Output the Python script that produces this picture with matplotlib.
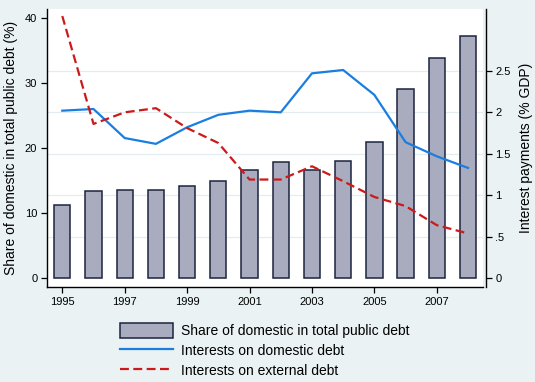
import matplotlib.pyplot as plt
import numpy as np

plt.rcParams['font.family'] = ['Liberation Sans', 'DejaVu Sans']

years = np.arange(1995, 2009)
share_domestic = [11.2, 13.4, 13.5, 13.5, 14.15, 14.9, 16.6, 17.85, 16.6, 18.0, 20.9, 29.1, 33.8, 37.3]
int_domestic = [2.02, 2.04, 1.69, 1.62, 1.82, 1.97, 2.02, 2.0, 2.47, 2.51, 2.21, 1.64, 1.47, 1.33]
int_external = [3.16, 1.86, 2.0, 2.05, 1.81, 1.63, 1.19, 1.19, 1.35, 1.17, 0.98, 0.87, 0.64, 0.54]

left_ticks = [0, 10, 20, 30, 40]
right_ticks = [0, 0.5, 1, 1.5, 2, 2.5]
right_labels = ['0', '.5', '1', '1.5', '2', '2.5']
x_ticks = [1995, 1997, 1999, 2001, 2003, 2005, 2007]

bg = '#EAF2F3'
W, H = 535, 382
fig = plt.figure(figsize=(W / 100, H / 100), dpi=100, facecolor=bg)
ax = fig.add_axes([47 / W, (H - 287) / H, (483 - 47) / W, (287 - 9) / H])
ax.set_facecolor('white')

ratio = 12.757
ylo, yhi = -1.34, 41.4
ax.set_ylim(ylo, yhi)
ax.set_xlim(1994.51, 2008.48)

# grid follows the right axis ticks, drawn under the bars
for v in right_ticks[1:]:
    ax.axhline(v * ratio, color='#E3ECEE', lw=0.9, zorder=0)

bars = ax.bar(years, share_domestic, width=0.52, color='#A8ACBE', edgecolor='#1C2340',
              linewidth=1.1, zorder=2, label='Share of domestic in total public debt')

ax2 = ax.twinx()
ax2.set_ylim(ylo / ratio, yhi / ratio)
l1, = ax2.plot(years, int_domestic, color='#1A7EE0', lw=1.6, label='Interests on domestic debt')
l2, = ax2.plot(years, int_external, color='#CC1A1A', lw=1.6, dashes=(4, 2),
               label='Interests on external debt')

for a in (ax, ax2):
    a.spines['top'].set_visible(False)
ax.spines['right'].set_visible(False)
ax2.spines['left'].set_visible(False)
ax2.spines['bottom'].set_visible(False)
ax2.spines['right'].set_position(('outward', 2))
for s in ('left', 'bottom'):
    ax.spines[s].set_linewidth(1.0)
ax2.spines['right'].set_linewidth(1.0)

ax.set_yticks(left_ticks)
ax.set_xticks(x_ticks)
ax.tick_params(axis='both', labelsize=8, length=4, width=0.9, direction='out', pad=3)
ax2.set_yticks(right_ticks)
ax2.set_yticklabels(right_labels)
ax2.tick_params(axis='y', labelsize=8, length=4, width=0.9, direction='out', pad=3)

ax.set_ylabel('Share of domestic in total public debt (%)', fontsize=10, labelpad=5)
ax2.set_ylabel('Interest payments (% GDP)', fontsize=10, labelpad=6)

fig.legend(handles=[bars, l1, l2], loc='upper center', bbox_to_anchor=(265 / W, (H - 313) / H),
           frameon=False, fontsize=10, handlelength=3.8, handleheight=1.3,
           labelspacing=0.35, handletextpad=0.6, borderpad=0.2)

fig.savefig('out.png', dpi=100, facecolor=bg)
